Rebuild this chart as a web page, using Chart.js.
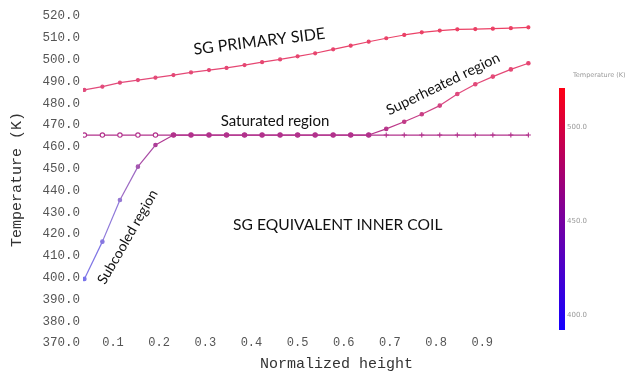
<!DOCTYPE html>
<html>
<head>
<meta charset="utf-8">
<script src="https://cdn.jsdelivr.net/npm/chart.js@4"></script>
<style>
  html, body { margin: 0; padding: 0; background: #fff; }
  #wrap { position: relative; width: 629px; height: 375px; }
</style>
</head>
<body>
<div id="wrap"><canvas id="tempChart" width="629" height="375"></canvas></div>
<script>
// normalized height of each node (26 nodes)
var heights = [0.038, 0.077, 0.115, 0.154, 0.192, 0.231, 0.269, 0.308, 0.346, 0.385, 0.423, 0.462, 0.500,
               0.538, 0.577, 0.615, 0.654, 0.692, 0.731, 0.769, 0.808, 0.846, 0.885, 0.923, 0.962, 1.000];

// temperatures (K)
var primarySide = [486.1, 487.6, 489.4, 490.6, 491.7, 492.9, 494.1, 495.2, 496.2, 497.5, 498.8, 500.1, 501.5,
                   502.9, 504.7, 506.4, 508.2, 509.8, 511.3, 512.5, 513.3, 513.9, 514.0, 514.2, 514.4, 514.8];
var saturation = [465.4, 465.4, 465.4, 465.4, 465.4, 465.4, 465.4, 465.4, 465.4, 465.4, 465.4, 465.4, 465.4,
                  465.4, 465.4, 465.4, 465.4, 465.4, 465.4, 465.4, 465.4, 465.4, 465.4, 465.4, 465.4, 465.4];
var innerCoil = [399.4, 416.5, 435.6, 450.9, 460.8, 465.4, 465.4, 465.4, 465.4, 465.4, 465.4, 465.4, 465.4,
                 465.4, 465.4, 465.4, 465.4, 468.2, 471.5, 474.9, 478.9, 484.2, 488.7, 492.2, 495.5, 498.3];

var xTicks = [0.1, 0.2, 0.3, 0.4, 0.5, 0.6, 0.7, 0.8, 0.9];
var colorbarTicks = [400, 450, 500];

// text labels placed on the plot (data coords)
var notes = [
  { text: 'SG PRIMARY SIDE', x: 0.417, y: 508.3, angle: -7, size: 16 },
  { text: 'Saturated region', x: 0.451, y: 471.8, angle: 0, size: 15 },
  { text: 'Superheated region', x: 0.815, y: 488.8, angle: -26, size: 14.5 },
  { text: 'Subcooled region', x: 0.132, y: 418.6, angle: -60, size: 14 },
  { text: 'SG EQUIVALENT INNER COIL', x: 0.587, y: 424.1, angle: 0, size: 15.6 }
];

var cbMin = 392, cbMax = 521;

// colour of the lines, follows the temperature
function mix(a, b, t) {
  return [0, 1, 2].map(function (k) { return Math.round(a[k] + (b[k] - a[k]) * t); });
}
var stops = [[0, [115, 115, 240]], [0.35, [150, 120, 210]], [0.57, [178, 50, 140]], [0.72, [225, 75, 125]], [1, [238, 62, 95]]];
function lineColor(v) {
  var t = (v - cbMin) / (cbMax - cbMin);
  t = Math.max(0, Math.min(1, t));
  for (var i = 1; i < stops.length; i++) {
    if (t <= stops[i][0]) {
      var c = mix(stops[i - 1][1], stops[i][1], (t - stops[i - 1][0]) / (stops[i][0] - stops[i - 1][0]));
      return 'rgb(' + c.join(',') + ')';
    }
  }
  return 'rgb(238,62,95)';
}

function toPoints(arr) {
  return arr.map(function (v, i) { return { x: heights[i], y: v }; });
}

var segColor = { borderColor: function (ctx) { return lineColor((ctx.p0.parsed.y + ctx.p1.parsed.y) / 2); } };
var ptColor = function (ctx) { return lineColor(ctx.raw ? ctx.raw.y : 465); };

var notesPlugin = {
  id: 'notes',
  afterDatasetsDraw: function (chart) {
    var c = chart.ctx;
    var xs = chart.scales.x, ys = chart.scales.y;
    c.save();
    c.fillStyle = '#111';
    c.textAlign = 'center';
    c.textBaseline = 'middle';
    notes.forEach(function (n) {
      c.save();
      c.translate(xs.getPixelForValue(n.x), ys.getPixelForValue(n.y));
      c.rotate(n.angle * Math.PI / 180);
      c.font = n.size + 'px Lato, "Open Sans", sans-serif';
      c.fillText(n.text, 0, 0);
      c.restore();
    });
    c.restore();
  }
};

// colour bar at the right
var colorbarPlugin = {
  id: 'colorbar',
  afterDraw: function (chart) {
    var c = chart.ctx;
    var left = 559, w = 6, top = 88, bottom = 330;
    var g = c.createLinearGradient(0, bottom, 0, top);
    g.addColorStop(0, 'rgb(20,0,255)');
    g.addColorStop(0.5, 'rgb(130,0,150)');
    g.addColorStop(1, 'rgb(255,0,20)');
    c.save();
    c.fillStyle = g;
    c.fillRect(left, top, w, bottom - top);
    c.fillStyle = '#999';
    c.font = '7px "DejaVu Sans", sans-serif';
    c.textBaseline = 'middle';
    colorbarTicks.forEach(function (v) {
      var y = bottom - (v - cbMin) / (cbMax - cbMin) * (bottom - top);
      c.fillText(v.toFixed(1), left + w + 2, y);
    });
    c.font = '6.5px "DejaVu Sans", sans-serif';
    c.fillText('Temperature (K)', 573, 75);
    c.restore();
  }
};

new Chart(document.getElementById('tempChart').getContext('2d'), {
  type: 'line',
  data: {
    datasets: [
      {
        label: 'SG inner coil',
        data: toPoints(innerCoil),
        borderWidth: 1.2,
        segment: segColor,
        pointRadius: 1.7,
        pointBackgroundColor: ptColor,
        pointBorderColor: ptColor,
        borderColor: lineColor(450)
      },
      {
        label: 'SG primary side',
        data: toPoints(primarySide),
        borderWidth: 1.2,
        segment: segColor,
        pointRadius: 1.5,
        pointBackgroundColor: ptColor,
        pointBorderColor: ptColor,
        borderColor: lineColor(500)
      },
      {
        label: 'Saturation',
        data: toPoints(saturation),
        borderWidth: 1.2,
        segment: segColor,
        // open circles where the coil is below saturation, ticks where it is superheated
        pointStyle: function (ctx) {
          return innerCoil[ctx.dataIndex] > saturation[ctx.dataIndex] ? 'cross' : 'circle';
        },
        pointRadius: function (ctx) {
          return innerCoil[ctx.dataIndex] > saturation[ctx.dataIndex] ? 2.5 : 2.2;
        },
        pointBorderWidth: 1.1,
        pointBackgroundColor: '#fff',
        pointBorderColor: ptColor,
        borderColor: lineColor(465)
      }
    ]
  },
  options: {
    responsive: false,
    animation: false,
    layout: { padding: { left: 8, right: 39, top: 16, bottom: 0 } },
    plugins: {
      legend: { display: false },
      tooltip: { enabled: false }
    },
    scales: {
      x: {
        type: 'linear',
        min: 0.035,
        max: 1.1335,
        grid: { display: false, drawTicks: false },
        border: { display: false },
        afterBuildTicks: function (scale) {
          scale.ticks = xTicks.map(function (v) { return { value: v }; });
        },
        afterFit: function (scale) { scale.height = 32; },
        ticks: {
          mirror: true,
          padding: -7,
          color: '#555',
          font: { family: '"Liberation Mono", monospace', size: 12 },
          callback: function (v) { return v.toFixed(1); }
        },
        title: {
          display: true,
          text: 'Normalized height',
          color: '#333',
          font: { family: '"Liberation Mono", monospace', size: 15 },
          padding: { top: 0, bottom: 2 }
        }
      },
      y: {
        min: 370,
        max: 520,
        grid: { display: false, drawTicks: false },
        border: { display: false },
        afterFit: function (scale) { scale.width = 75; },
        ticks: {
          stepSize: 10,
          padding: 3,
          color: '#555',
          font: { family: '"Liberation Mono", monospace', size: 12.5 },
          callback: function (v) { return v.toFixed(1); }
        },
        title: {
          display: true,
          text: 'Temperature (K)',
          color: '#333',
          font: { family: '"Liberation Mono", monospace', size: 15 },
          padding: { top: 0, bottom: 4 }
        }
      }
    }
  },
  plugins: [notesPlugin, colorbarPlugin]
});
</script>
</body>
</html>
